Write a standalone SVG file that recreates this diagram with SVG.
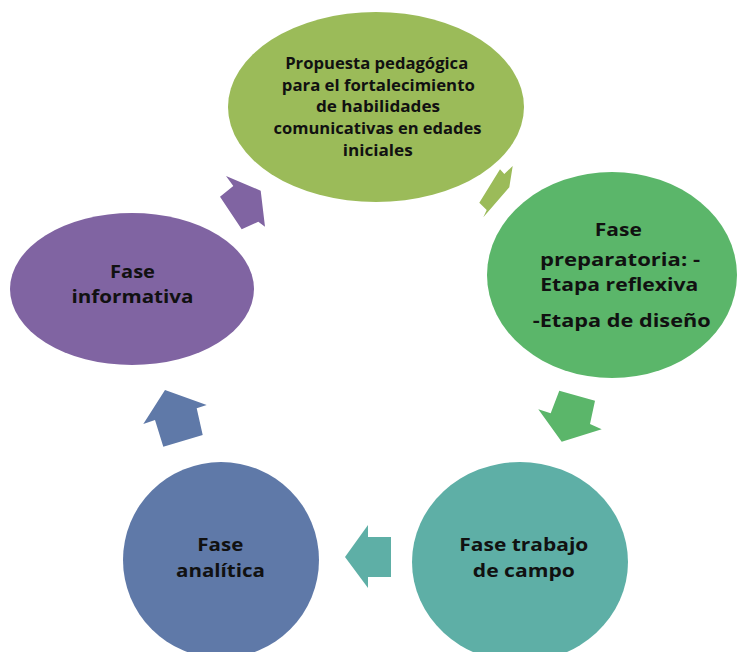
<svg xmlns="http://www.w3.org/2000/svg" width="737" height="652" viewBox="0 0 737 652">
<style>
text{font-family:"Open Sans",Lato,"Liberation Sans",sans-serif;font-weight:700;fill:#111;text-anchor:middle}
.sm{font-size:15.5px}
.lg{font-size:18.5px}
</style>
<rect width="737" height="652" fill="#fff"/>
<g id="connectors">
<polygon fill="#9BBB59" points="500,169.3 504.3,174 512.7,166 509.3,187.3 483.3,217.3 486.7,210 479.3,202.7"/>
<polygon fill="#5BB66A" points="559.3,390.7 595,400.7 590,424 601.7,429.3 561.7,441.7 538.3,409.3 550.7,413.3"/>
<polygon fill="#5EAFA6" points="345,557 368,525 368,537 391,537 391,577 368,577 368,588"/>
<polygon fill="#5F79A8" points="165,390 206.7,405 196.7,408.3 202.7,435 163.3,446.7 155,420 143.3,424"/>
<polygon fill="#8064A2" points="226,176 260.7,190.7 265,226.7 258.3,221.7 241.7,229.3 220,196.7 233.3,186"/>
</g>
<g id="node-propuesta">
<ellipse cx="376" cy="107" rx="148" ry="95" fill="#9BBB59"/>
<text class="sm" x="376.7" y="69" textLength="183" lengthAdjust="spacingAndGlyphs">Propuesta pedagógica</text>
<text class="sm" x="378.3" y="90.5" textLength="193" lengthAdjust="spacingAndGlyphs">para  el fortalecimiento</text>
<text class="sm" x="378" y="112" textLength="124" lengthAdjust="spacingAndGlyphs">de habilidades</text>
<text class="sm" x="377.5" y="134" textLength="208" lengthAdjust="spacingAndGlyphs">comunicativas en edades</text>
<text class="sm" x="377.7" y="155.5" textLength="70" lengthAdjust="spacingAndGlyphs">iniciales</text>
</g>
<g id="node-preparatoria">
<ellipse cx="612" cy="275" rx="125" ry="103" fill="#5BB66A"/>
<text class="lg" x="618.3" y="236" textLength="47" lengthAdjust="spacingAndGlyphs">Fase</text>
<text class="lg" x="620" y="266" textLength="160" lengthAdjust="spacingAndGlyphs">preparatoria:  -</text>
<text class="lg" x="619.2" y="291" textLength="158" lengthAdjust="spacingAndGlyphs">Etapa reflexiva</text>
<text class="lg" x="621.7" y="327" textLength="178" lengthAdjust="spacingAndGlyphs">-Etapa de diseño</text>
</g>
<g id="node-campo">
<ellipse cx="520" cy="562" rx="108" ry="100" fill="#5EAFA6"/>
<text class="lg" x="523.8" y="551" textLength="129" lengthAdjust="spacingAndGlyphs">Fase trabajo</text>
<text class="lg" x="523.8" y="577" textLength="102" lengthAdjust="spacingAndGlyphs">de campo</text>
</g>
<g id="node-analitica">
<ellipse cx="221" cy="560" rx="98" ry="98" fill="#5F79A8"/>
<text class="lg" x="220.3" y="551" textLength="46" lengthAdjust="spacingAndGlyphs">Fase</text>
<text class="lg" x="220.5" y="577" textLength="89" lengthAdjust="spacingAndGlyphs">analítica</text>
</g>
<g id="node-informativa">
<ellipse cx="132" cy="289" rx="122" ry="76" fill="#8064A2"/>
<text class="lg" x="132.5" y="278" textLength="45" lengthAdjust="spacingAndGlyphs">Fase</text>
<text class="lg" x="132.5" y="303" textLength="122" lengthAdjust="spacingAndGlyphs">informativa</text>
</g>
</svg>
